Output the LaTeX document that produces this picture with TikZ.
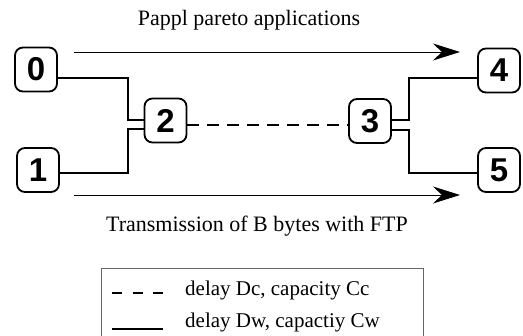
\documentclass[tikz,border=0pt]{standalone}
\usepackage{fontspec}
\setmainfont{Liberation Serif}
\newfontfamily\digitfont{Liberation Sans}
\usetikzlibrary{arrows.meta}

\begin{document}
\begin{tikzpicture}[
  x=1pt,y=-1pt,
  host/.style={draw,line width=1.8pt,rounded corners=8pt,minimum width=42pt,minimum height=44pt,inner sep=0pt,font=\digitfont\bfseries\fontsize{33}{33}\selectfont},
  wire/.style={line width=1.5pt},
  core/.style={wire,dash pattern=on 12pt off 8pt},
  flow/.style={-{Stealth[length=27pt,width=17pt,inset=9pt]},line width=0.9pt},
  caption/.style={font=\fontsize{22}{26}\selectfont,inner sep=0pt},
  lgtext/.style={font=\fontsize{21}{25}\selectfont,inner sep=0pt},
  legend/.style={draw=black!60,line width=1pt}]

  \useasboundingbox (0,0) rectangle (523,336);

  \node[host] (n0) at (36,69.5) {0};
  \node[host] (n1) at (38,170) {1};
  \node[host] (n2) at (165.5,120.5) {2};
  \node[host] (n3) at (370,121) {3};
  \node[host] (n4) at (499,70.5) {4};
  \node[host] (n5) at (499,170) {5};

  % links into and out of the bottleneck
  \draw[wire] ([yshift=-8.5pt]n0.east) -- ++(70,0) |- ([yshift=.5pt]n2.west);
  \draw[wire] ([yshift=-3pt]n1.east) -- ++(68,0) |- ([yshift=-8.5pt]n2.west);
  \draw[core] ([yshift=-4.5pt]n2.east) -- ([yshift=-4pt]n3.west);
  \draw[wire] ([yshift=1pt]n3.east) -- ++(17,0) |- ([yshift=-7.5pt]n4.west);
  \draw[wire] ([yshift=-9pt]n3.east) -- ++(17,0) |- ([yshift=-3pt]n5.west);

  % traffic
  \coordinate (paS) at (74,52);
  \coordinate (paE) at (460,52);
  \coordinate (ftpS) at (74,195);
  \coordinate (ftpE) at (460,195);
  \draw[flow] (paS) -- (paE);
  \draw[flow] (ftpS) -- (ftpE);
  \node[caption,anchor=base] (pareto) at (249,26) {Pappl pareto applications};
  \node[caption,anchor=base] (ftp) at (257,232) {Transmission of B bytes with FTP};

  % legend
  \draw[legend] (101,269) rectangle (423,350);
  \node[lgtext,anchor=base west] (lgcore) at (185,296) {delay Dc, capacity Cc};
  \node[lgtext,anchor=base west] (lgwire) at (185,328) {delay Dw, capactiy Cw};
  \draw[wire,dash pattern=on 10pt off 10.5pt] ([xshift=-73pt,yshift=3pt]lgcore.base west) -- ([xshift=-22pt,yshift=3pt]lgcore.base west);
  \draw[wire] ([xshift=-73pt,yshift=-1pt]lgwire.base west) -- ([xshift=-22pt,yshift=-1pt]lgwire.base west);
\end{tikzpicture}
\end{document}
